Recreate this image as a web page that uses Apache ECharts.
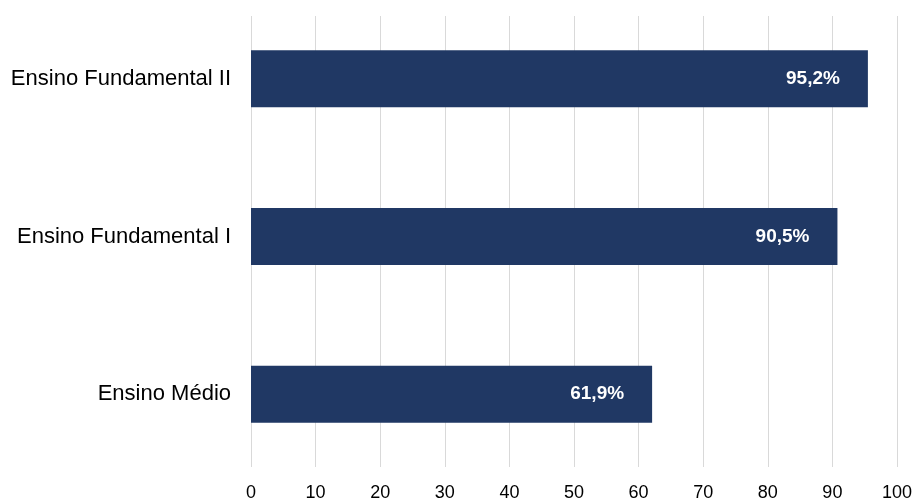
<!DOCTYPE html>
<html>
<head>
<meta charset="utf-8">
<script src="https://cdn.jsdelivr.net/npm/echarts@6/dist/echarts.min.js"></script>
<style>
  html, body { margin: 0; padding: 0; background: #fff; }
  #chart { width: 915px; height: 502px; }
</style>
</head>
<body>
<div id="chart"></div>
<script>
const categories = ['Ensino Médio', 'Ensino Fundamental I', 'Ensino Fundamental II']
const values = [61.9, 90.5, 95.2]
const tickMin = 0
const tickMax = 100
const tickStep = 10

const chart = echarts.init(document.getElementById('chart'))
const font = 'Liberation Sans, Arial, sans-serif'

const option = {
  backgroundColor: '#fff',
  animation: false,
  grid: [
    // grid for the value axis and its gridlines
    { left: 251, right: 16, top: 16, bottom: 27 },
    // grid for the bars
    { left: 251, right: 16, top: -4, height: 477 }
  ],
  xAxis: [
    {
      gridIndex: 0,
      type: 'value',
      min: tickMin,
      max: tickMax,
      interval: tickStep,
      axisLine: { show: false },
      axisTick: { show: false },
      axisLabel: { color: '#000', fontSize: 18, fontFamily: font, margin: 17 },
      splitLine: { lineStyle: { color: '#d9d9d9', width: 1 } }
    },
    {
      gridIndex: 1,
      type: 'value',
      min: tickMin,
      max: tickMax,
      show: false
    }
  ],
  yAxis: [
    { gridIndex: 0, type: 'category', data: categories, show: false },
    {
      gridIndex: 1,
      type: 'category',
      data: categories,
      axisLine: { show: false },
      axisTick: { show: false },
      axisLabel: { color: '#000', fontSize: 22, fontFamily: font, margin: 20 }
    }
  ],
  series: [
    {
      type: 'bar',
      xAxisIndex: 1,
      yAxisIndex: 1,
      data: values,
      barWidth: 57,
      itemStyle: { color: '#203864' },
      label: {
        show: true,
        position: 'insideRight',
        distance: 28,
        color: '#fff',
        fontWeight: 'bold',
        fontSize: 19,
        fontFamily: font,
        formatter: (p) => p.value.toFixed(1).replace('.', ',') + '%'
      }
    }
  ]
}

chart.setOption(option)
</script>
</body>
</html>
